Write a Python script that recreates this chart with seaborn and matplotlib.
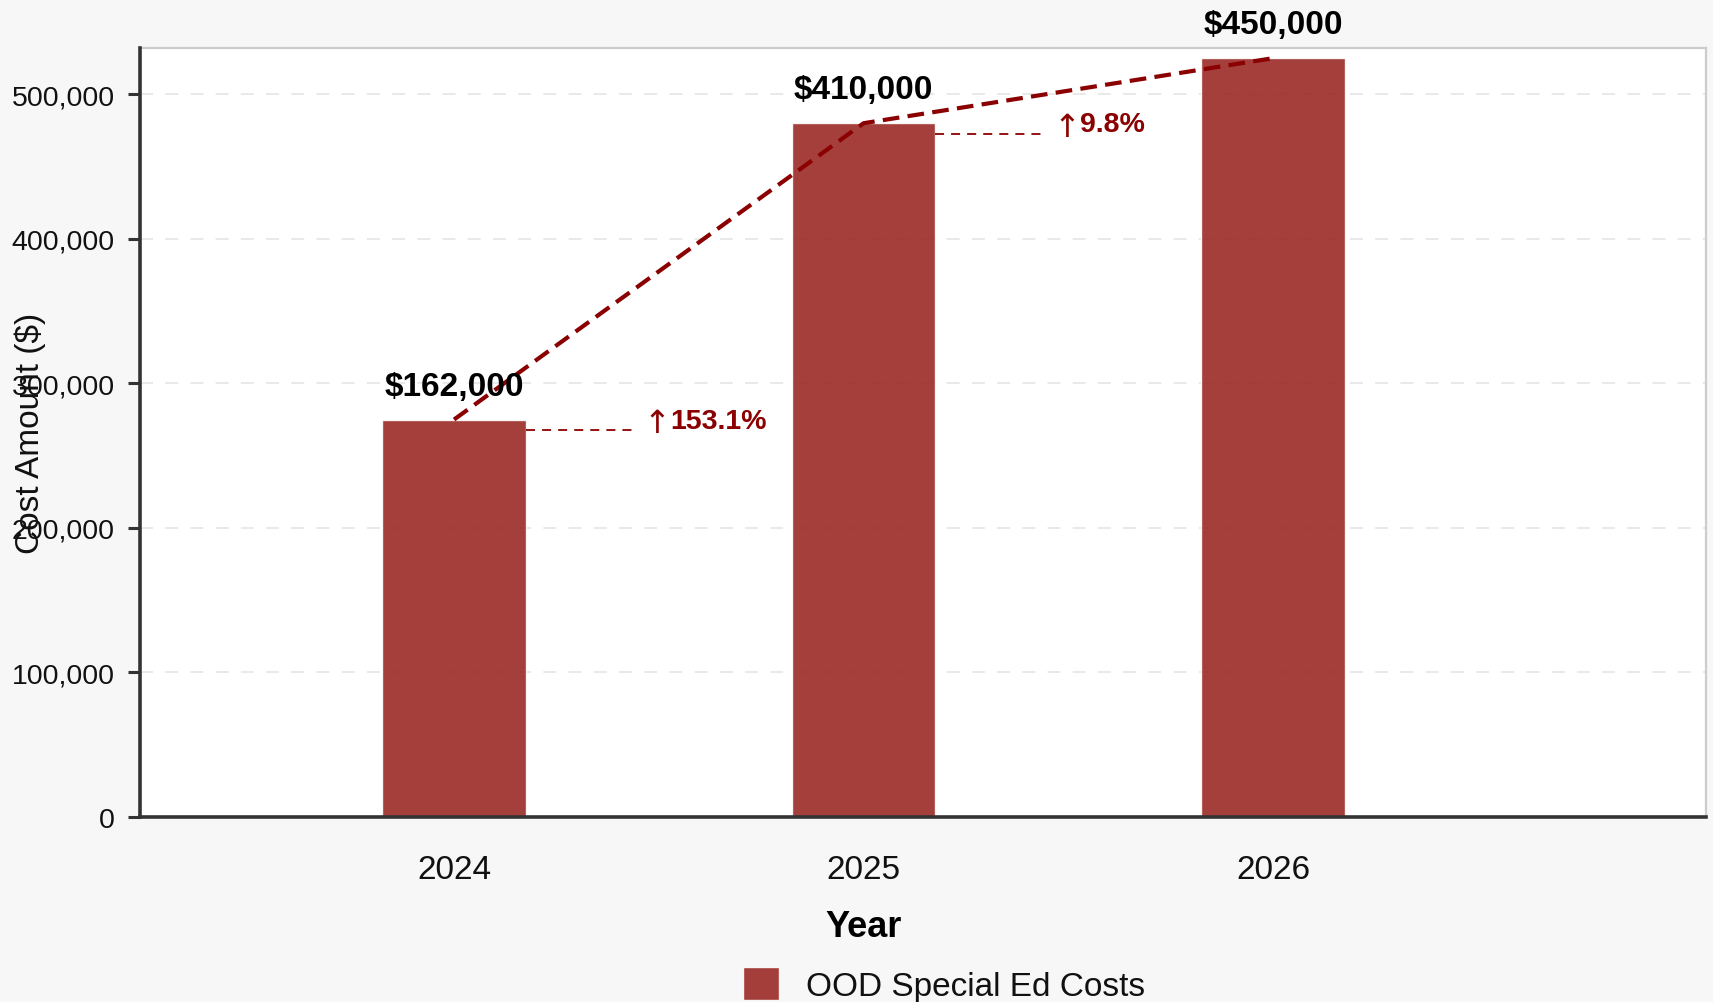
import matplotlib
matplotlib.use("Agg")
import matplotlib.pyplot as plt
import seaborn as sns
from matplotlib.ticker import FuncFormatter

# ---- data ----
years = ["2024", "2025", "2026"]
bar_heights = [275000, 480000, 525000]        # drawn bar heights
label_values = [162000, 410000, 450000]       # values printed above bars
series_name = "OOD Special Ed Costs"

# growth labels derived from the printed values
growth = [(label_values[i + 1] / label_values[i] - 1) * 100 for i in range(len(label_values) - 1)]

BAR_COLOR = "#9B2A26"
DARK_RED = "#8B0000"

sns.set_theme(style="white")
plt.rcParams["font.family"] = ["Liberation Sans", "DejaVu Sans"]

fig = plt.figure(figsize=(17.13, 10.03), dpi=100, facecolor="#F7F7F7")
ax = fig.add_axes([0.0817, 0.1844, 0.9142, 0.7667])
ax.set_facecolor("white")

sns.barplot(x=years, y=bar_heights, color=BAR_COLOR, saturation=1, alpha=0.9,
            width=0.35, label=series_name, ax=ax, zorder=2)

# trend line through bar tops
ax.plot(range(len(years)), bar_heights, color=DARK_RED, lw=3.0,
        ls=(0, (4, 2)), zorder=4)

# value labels
for i, (h, v) in enumerate(zip(bar_heights, label_values)):
    ax.annotate(f"${v:,.0f}", xy=(i, h), xytext=(0, 18), textcoords="offset points",
                ha="center", va="baseline", fontsize=24, fontweight="bold",
                color="black", annotation_clip=False, zorder=5)

# growth connectors and labels
half_w = 0.35 / 2
for i, g in enumerate(growth):
    y = bar_heights[i] - 7500
    ax.plot([i + half_w, i + 0.447], [y, y], color=DARK_RED, lw=1.3,
            ls=(0, (5, 3.9)), zorder=3)
    ax.annotate("\u2191", xy=(i + 0.463, y), xytext=(0, 5),
                textcoords="offset points", ha="left", va="center",
                fontsize=23, fontweight="normal", family="DejaVu Sans",
                color=DARK_RED, zorder=5)
    ax.annotate(f"{g:.1f}%", xy=(i + 0.463, y), xytext=(19, 7),
                textcoords="offset points", ha="left", va="center",
                fontsize=20.5, fontweight="bold", color=DARK_RED, zorder=5)

# axes styling
ax.set_xlim(-0.767, 3.057)
ax.set_ylim(0, 532000)
ax.set_yticks([0, 100000, 200000, 300000, 400000, 500000])
ax.yaxis.set_major_formatter(FuncFormatter(lambda v, p: f"{v:,.0f}"))
ax.yaxis.grid(True, linestyle=(0, (8.5, 8)), color="#E3E3E3", linewidth=1.1, zorder=0)
ax.xaxis.grid(False)
ax.set_axisbelow(True)

for side in ["left", "bottom"]:
    ax.spines[side].set_color("#333333")
    ax.spines[side].set_linewidth(2.6)
    ax.spines[side].set_zorder(6)
for side in ["top", "right"]:
    ax.spines[side].set_color("#CCCCCC")
    ax.spines[side].set_linewidth(1.6)

ax.tick_params(axis="y", which="major", left=True, length=8.6, width=2.2,
               color="#333333", pad=9.4, labelsize=20.5, labelcolor="#111111")
ax.tick_params(axis="x", which="major", bottom=False, length=0, pad=26.5,
               labelsize=24, labelcolor="#111111")

ax.set_ylabel("Cost Amount ($)", fontsize=24, color="#111111")
ax.yaxis.set_label_coords(-0.0699, 0.5)
ax.yaxis.label.set_va("center")

ax.set_xlabel("Year", fontsize=26, fontweight="bold", color="black")
ax.xaxis.set_label_coords(0.4623, -0.1547)
ax.xaxis.label.set_va("baseline")

handles, labels = ax.get_legend_handles_labels()
if ax.get_legend() is not None:
    ax.get_legend().remove()
leg = fig.legend(handles[:1], labels[:1], loc="lower center",
                 bbox_to_anchor=(944 / 1713, 0.0), frameon=False, fontsize=24,
                 handlelength=1.1, handleheight=1.15, handletextpad=0.8,
                 borderpad=0, borderaxespad=0)
for t in leg.get_texts():
    t.set_color("#111111")

fig.savefig("out.png", dpi=100, facecolor=fig.get_facecolor())
